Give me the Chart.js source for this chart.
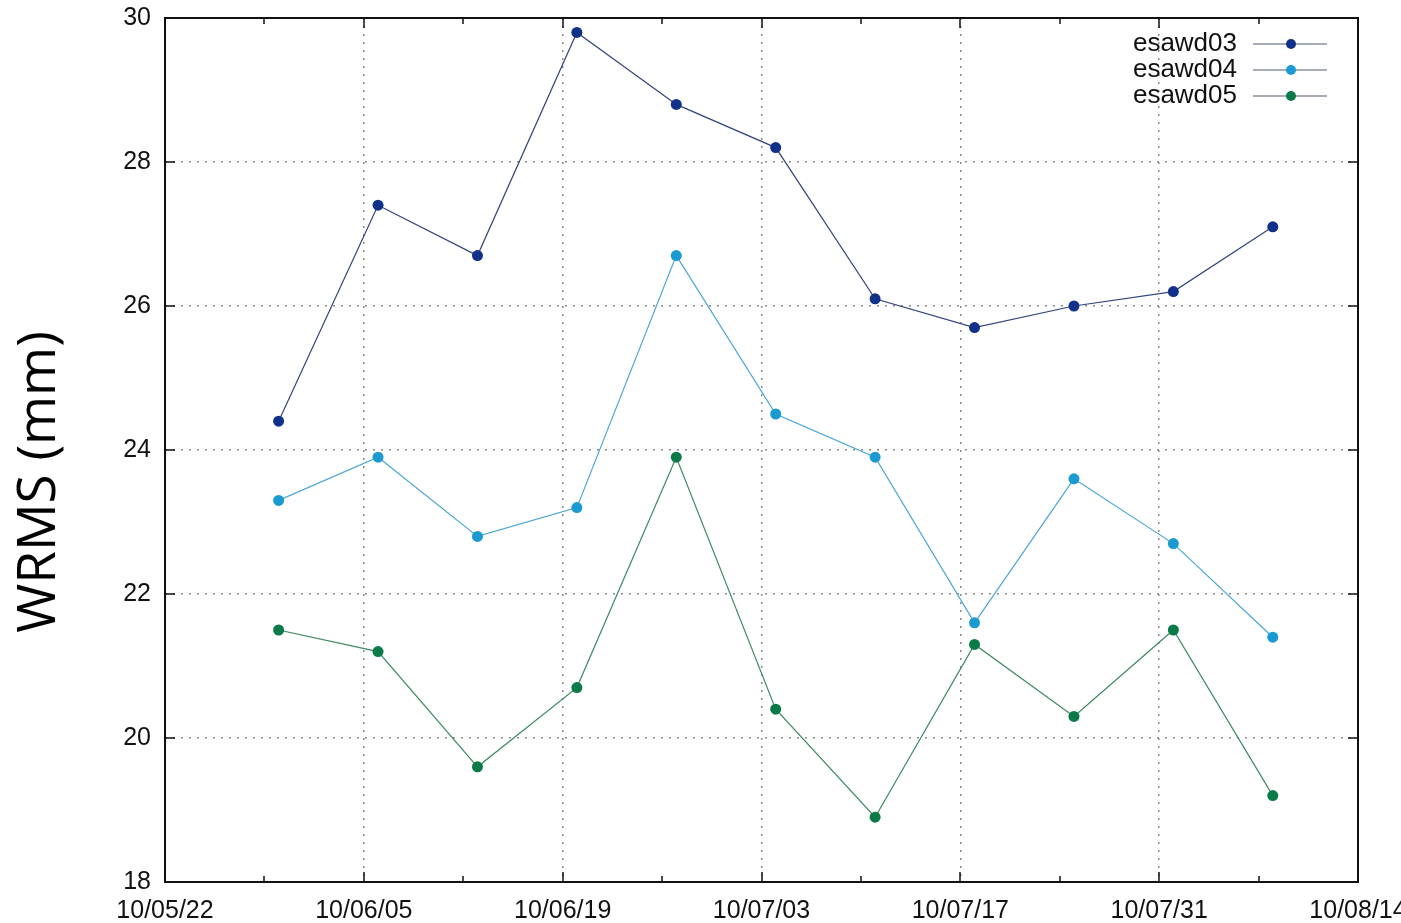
<!DOCTYPE html>
<html>
<head>
<meta charset="utf-8">
<script src="https://cdn.jsdelivr.net/npm/chart.js@4/dist/chart.umd.min.js"></script>
<style>
  html, body { margin: 0; padding: 0; background: #fff; overflow: hidden; }
  #wrap { width: 1401px; height: 923px; overflow: hidden; position: relative; }
  #box { width: 1440px; height: 923px; position: absolute; left: 0; top: 0; }
</style>
</head>
<body>
<div id="wrap"><div id="box"><canvas id="wrms"></canvas></div></div>
<script>
const startDate = '2010-05-22'
const dates = ['2010-05-30', '2010-06-06', '2010-06-13', '2010-06-20', '2010-06-27', '2010-07-04',
  '2010-07-11', '2010-07-18', '2010-07-25', '2010-08-01', '2010-08-08']
const esawd03 = [24.4, 27.4, 26.7, 29.8, 28.8, 28.2, 26.1, 25.7, 26.0, 26.2, 27.1]
const esawd04 = [23.3, 23.9, 22.8, 23.2, 26.7, 24.5, 23.9, 21.6, 23.6, 22.7, 21.4]
const esawd05 = [21.5, 21.2, 19.6, 20.7, 23.9, 20.4, 18.9, 21.3, 20.3, 21.5, 19.2]
const yTitle = 'WRMS (mm)'

const dayMs = 86400000
const t0 = Date.parse(startDate + 'T00:00:00Z')
const days = dates.map((d) => Math.round((Date.parse(d + 'T00:00:00Z') - t0) / dayMs))

function fmtDay(v) {
  const d = new Date(t0 + v * dayMs)
  const p = (n) => String(n).padStart(2, '0')
  return p(d.getUTCFullYear() % 100) + '/' + p(d.getUTCMonth() + 1) + '/' + p(d.getUTCDate())
}

const series = [
  {label: 'esawd03', values: esawd03, point: '#10308a', line: '#34447e'},
  {label: 'esawd04', values: esawd04, point: '#1b9ad2', line: '#4aa6d6'},
  {label: 'esawd05', values: esawd05, point: '#0b7a48', line: '#3d8a62'},
]

// gnuplot-ish frame: black border, inward ticks, inner legend and y title
const framePlugin = {
  id: 'frame',
  afterDraw(chart) {
    const {ctx, chartArea: a, scales: {x, y}} = chart
    ctx.save()
    ctx.strokeStyle = '#111'
    ctx.lineWidth = 2
    ctx.strokeRect(a.left, a.top, a.right - a.left, a.bottom - a.top)
    ctx.lineWidth = 1.5
    ctx.beginPath()
    for (let v = 0; v <= 84; v += 7) {
      const px = Math.round(x.getPixelForValue(v))
      const len = v % 14 === 0 ? 10 : 6
      ctx.moveTo(px, a.bottom); ctx.lineTo(px, a.bottom - len)
      ctx.moveTo(px, a.top); ctx.lineTo(px, a.top + len)
    }
    for (let v = 18; v <= 30; v += 2) {
      const py = Math.round(y.getPixelForValue(v))
      ctx.moveTo(a.left, py); ctx.lineTo(a.left + 10, py)
      ctx.moveTo(a.right, py); ctx.lineTo(a.right - 10, py)
    }
    ctx.stroke()

    // legend
    ctx.font = '26px "Liberation Sans", Arial, sans-serif'
    ctx.textAlign = 'right'
    ctx.textBaseline = 'middle'
    series.forEach((s, i) => {
      const ly = 44 + i * 26
      ctx.fillStyle = '#111'
      ctx.fillText(s.label, 1237, ly)
      ctx.strokeStyle = '#a8adb5'
      ctx.lineWidth = 2
      ctx.beginPath(); ctx.moveTo(1253, ly); ctx.lineTo(1327, ly); ctx.stroke()
      ctx.fillStyle = s.point
      ctx.beginPath(); ctx.arc(1291, ly, 5, 0, Math.PI * 2); ctx.fill()
    })

    // y title
    ctx.translate(40, 482)
    ctx.rotate(-Math.PI / 2)
    ctx.textAlign = 'center'
    ctx.fillStyle = '#000'
    ctx.font = '53px "Open Sans", "Noto Sans", sans-serif'
    ctx.fillText(yTitle, 0, 0)
    ctx.restore()
  }
}

const gridOpts = {color: '#8a8a8a', drawTicks: false, lineWidth: 1.5}
const borderOpts = {display: false, dash: [2, 6]}
const tickFont = {family: '"Liberation Sans", Arial, sans-serif', size: 25}
const noPad = (s) => { s.paddingTop = 0; s.paddingBottom = 0; s.paddingLeft = 0; s.paddingRight = 0 }

new Chart(document.getElementById('wrms'), {
  type: 'line',
  data: {
    datasets: series.map((s) => ({
      label: s.label,
      data: days.map((d, i) => ({x: d, y: s.values[i]})),
      borderColor: s.line,
      borderWidth: 1.2,
      backgroundColor: s.point,
      pointBackgroundColor: s.point,
      pointBorderWidth: 0,
      pointRadius: 5.5,
      tension: 0,
    })),
  },
  options: {
    animation: false,
    responsive: true,
    maintainAspectRatio: false,
    layout: {padding: {top: 18, right: 82, bottom: 0, left: 0}},
    plugins: {legend: {display: false}, tooltip: {enabled: false}},
    scales: {
      x: {
        type: 'linear',
        min: 0,
        max: 84,
        afterFit: (s) => { s.height = 41; noPad(s) },
        grid: gridOpts,
        border: borderOpts,
        ticks: {
          stepSize: 14,
          padding: 14,
          maxRotation: 0,
          color: '#111',
          font: tickFont,
          callback: (v) => fmtDay(v),
        },
      },
      y: {
        min: 18,
        max: 30,
        afterFit: (s) => { s.width = 165; noPad(s) },
        grid: gridOpts,
        border: borderOpts,
        ticks: {
          stepSize: 2,
          padding: 14,
          color: '#111',
          font: tickFont,
        },
      },
    },
  },
  plugins: [framePlugin],
})
</script>
</body>
</html>
